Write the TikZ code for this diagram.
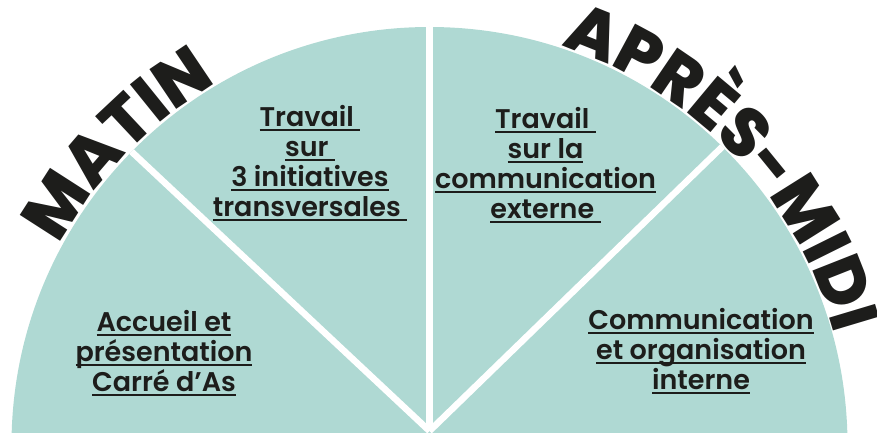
\documentclass[tikz,border=0pt]{standalone}
\usepackage{fontspec}
\usetikzlibrary{decorations.text,calc}
\newfontfamily\heavyfont{Poppins ExtraBold}
\newfontfamily\bodyfont{Poppins SemiBold}
\definecolor{mint}{RGB}{175,217,211}
\definecolor{ink}{RGB}{29,29,27}
\newcommand\ulx[1]{\setbox0=\hbox{#1}\rlap{\color{ink}\rule[-5pt]{\wd0}{2pt}}\box0}
\begin{document}
\begin{tikzpicture}[x=1pt,y=1pt,
  sep/.style={draw=white,line width=6.5pt},
  label/.style={align=center,inner sep=0pt,text=ink,font=\bodyfont\fontsize{27}{30}\selectfont}]
\useasboundingbox (0,0) rectangle (877,432);
\coordinate (C) at (429.5,-13);
\begin{scope}
  \clip (0,0) rectangle (877,432);
  \fill[mint] (C) circle[radius=418pt];
  \clip (C) circle[radius=418pt];
  \coordinate (O) at (429.5,1);
  \coordinate (L) at (133,279);
  \coordinate (R) at (722,285);
  \coordinate (T) at (429.5,432);
  \draw[sep] (O) -- ($(O)!1.5!(L)$);
  \draw[sep] (O) -- ($(O)!1.5!(R)$);
  \draw[sep] (O) -- (T);
\end{scope}
\path[decorate,decoration={text along path,text align=center,
  text={|\heavyfont\fontsize{68}{68}\selectfont\color{ink}|MATIN}}]
  (C) ++(166:420) arc[start angle=166,end angle=106,radius=420pt];
\path[decorate,decoration={text along path,text align=center,
  text={|\heavyfont\fontsize{68}{68}\selectfont\color{ink}|APRÈS-MIDI}}]
  (C) ++(80:420) arc[start angle=80,end angle=7,radius=420pt];
\node[label] (a) at (310,269) {\ulx{Travail\ }\\\ulx{sur\ }\\\ulx{3 initiatives}\\\ulx{transversales\ }};
\node[label] (b) at (164,79) {\ulx{Accueil et}\\\ulx{présentation}\\\ulx{Carré d’As}};
\node[label] (c) at (545.5,267) {\ulx{Travail\ }\\\ulx{sur la}\\\ulx{communication}\\\ulx{externe\ }};
\node[label] (d) at (701,81) {\ulx{Communication}\\\ulx{et organisation}\\\ulx{interne}};
\end{tikzpicture}
\end{document}
